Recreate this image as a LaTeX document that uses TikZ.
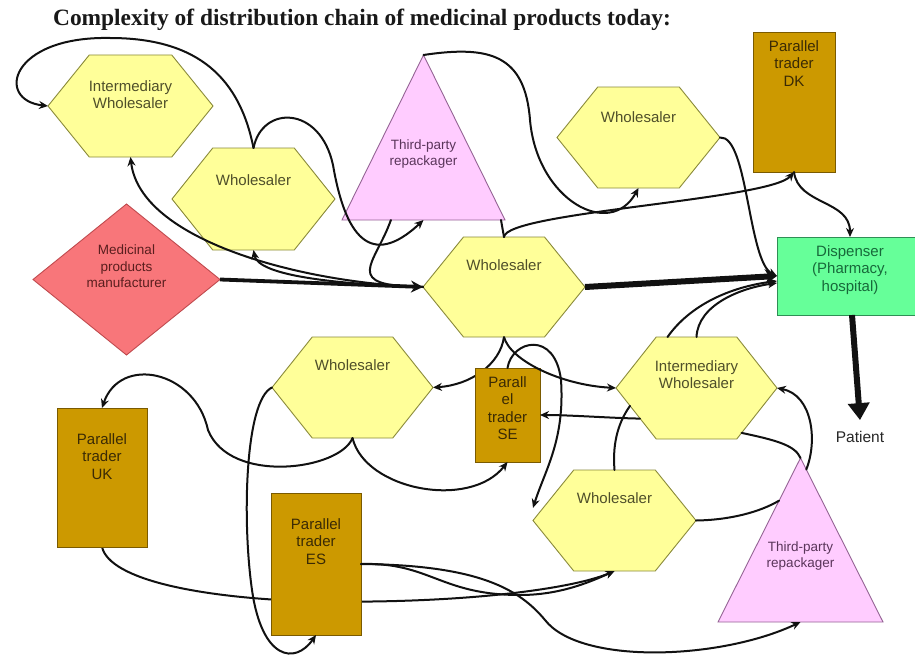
\documentclass[tikz,border=0pt]{standalone}
\usepackage{fontspec}
\setmainfont{Liberation Sans}
\newfontfamily\titlefont{Liberation Serif}
\usetikzlibrary{arrows.meta,calc}

\pgfdeclarelayer{canvas}
\pgfdeclarelayer{behind}
\pgfdeclarelayer{shapes}
\pgfsetlayers{canvas,behind,shapes,main}

\definecolor{hexfill}{HTML}{FFFF99}
\definecolor{hexline}{HTML}{8A8A3A}
\definecolor{hextext}{HTML}{4F4F2A}
\definecolor{trifill}{HTML}{FFCCFF}
\definecolor{triline}{HTML}{946494}
\definecolor{tritext}{HTML}{5A355A}
\definecolor{ptfill}{HTML}{CC9900}
\definecolor{ptline}{HTML}{7A5A00}
\definecolor{pttext}{HTML}{3A2A05}
\definecolor{dispfill}{HTML}{66FF99}
\definecolor{displine}{HTML}{2F8F55}
\definecolor{disptext}{HTML}{17693A}
\definecolor{mffill}{HTML}{F8767A}
\definecolor{mfline}{HTML}{C04A4E}
\definecolor{mftext}{HTML}{5A1E1E}
\definecolor{inkline}{HTML}{111111}

% box of given width/height, text set from the top with a given padding
\newcommand\shtxt[4]{\parbox[c][#2][t]{#1}{\centering\vspace*{#3}\strut#4\par}}

\tikzset{
  hexnode/.style={inner sep=0pt, outer sep=0pt, font=\fontsize{15}{17.5}\selectfont, text=hextext},
  hexshape/.style={fill=hexfill, draw=hexline, line width=0.9pt},
  trinode/.style={inner sep=0pt, outer sep=0pt, font=\fontsize{13.5}{15.5}\selectfont, text=tritext},
  trishape/.style={fill=trifill, draw=triline, line width=0.9pt},
  ptbox/.style={inner sep=0pt, outer sep=0pt, fill=ptfill, draw=ptline, line width=0.9pt,
    font=\fontsize{15}{17.5}\selectfont, text=pttext},
  dispbox/.style={inner sep=0pt, outer sep=0pt, fill=dispfill, draw=displine, line width=0.9pt,
    font=\fontsize{15}{17.5}\selectfont, text=disptext},
  mfnode/.style={inner sep=0pt, outer sep=0pt, font=\fontsize{13.5}{16.5}\selectfont, text=mftext},
  mfshape/.style={fill=mffill, draw=mfline, line width=0.9pt},
  pattext/.style={inner xsep=2pt, inner ysep=11pt, font=\fontsize{15.5}{18}\selectfont, text=black!85},
  conn/.style={draw=inkline, line width=2pt, line cap=round, -{Stealth[length=9pt,width=8pt]}},
  link/.style={draw=inkline, line width=2pt, line cap=round},
  mainflow/.style={draw=inkline, line width=3.8pt, -{Stealth[length=12pt,width=12pt]}},
  heavyflow/.style={draw=inkline, line width=6pt, -{Stealth[length=12pt,width=15pt]}},
  patientflow/.style={draw=inkline, line width=6pt, -{Triangle[length=17pt,width=21pt]}},
}

\newcommand\hexa[7]{%
  \node[hexnode] (#1) at (#2,#3) {\shtxt{#4pt}{#5pt}{#6pt}{#7}};
  \begin{pgfonlayer}{shapes}
    \path[hexshape] (#1.west) -- ($(#1.north west)!.25!(#1.north east)$)
      -- ($(#1.north west)!.75!(#1.north east)$) -- (#1.east)
      -- ($(#1.south west)!.75!(#1.south east)$)
      -- ($(#1.south west)!.25!(#1.south east)$) -- cycle;
  \end{pgfonlayer}}

\newcommand\tri[7]{%
  \node[trinode] (#1) at (#2,#3) {\shtxt{#4pt}{#5pt}{#6pt}{#7}};
  \begin{pgfonlayer}{shapes}
    \path[trishape] (#1.south west) -- (#1.north) -- (#1.south east) -- cycle;
  \end{pgfonlayer}}

\begin{document}
\begin{tikzpicture}[x=1pt,y=-1pt]
\useasboundingbox (0,0) rectangle (915,661);
\begin{pgfonlayer}{canvas}
  \fill[white] (0,0) rectangle (915,661);
\end{pgfonlayer}

% title
\node[font=\titlefont\bfseries\fontsize{23.4}{26}\selectfont, text=black!90] (title) at (362,20)
  {Complexity of distribution chain of medicinal products today:};

% actors
\hexa{iw1}{130.5}{106}{165}{102}{24}{Intermediary\\Wholesaler}
\hexa{w1}{253.5}{199}{163}{102}{25}{Wholesaler}
\tri{tp1}{423.5}{137.5}{163}{165}{84}{Third-party\\repackager}
\hexa{w2}{638.5}{137.5}{163}{101}{23}{Wholesaler}
\node[ptbox] (dk) at (794,102) {\shtxt{82pt}{140pt}{7pt}{Parallel\\trader\\DK}};
\node[dispbox] (disp) at (850,276) {\shtxt{146pt}{78pt}{7pt}{Dispenser\\(Pharmacy,\\hospital)}};

\node[mfnode] (mf) at (126.5,279.5) {\shtxt{187pt}{151pt}{39pt}{Medicinal\\products\\manufacturer}};
\begin{pgfonlayer}{shapes}
  \path[mfshape] (mf.west) -- (mf.north) -- (mf.east) -- (mf.south) -- cycle;
\end{pgfonlayer}

\hexa{cw}{504}{287}{162}{100}{21}{Wholesaler}
\hexa{w3}{352.5}{387.5}{161}{101}{21}{Wholesaler}
\node[ptbox] (se) at (507.5,415) {\shtxt{65pt}{94pt}{7pt}{Parall\\el\\trader\\SE}};
\hexa{iw2}{696.5}{388}{161}{102}{22}{Intermediary\\Wholesaler}
\hexa{w4}{614.5}{520.5}{163}{101}{21}{Wholesaler}
\tri{tp2}{800.5}{540}{165}{164}{83}{Third-party\\repackager}
\node[ptbox] (uk) at (102,477.5) {\shtxt{90pt}{139pt}{24pt}{Parallel\\trader\\UK}};
\node[ptbox] (es) at (316,564) {\shtxt{90pt}{142pt}{24pt}{Parallel\\trader\\ES}};
\node[pattext] (pat) at (860,437) {Patient};

% main chain
\draw[mainflow] (mf.east) -- (cw.west);
\draw[heavyflow] (cw.east) -- (disp.west);
\draw[patientflow] ($(disp.south)+(2,0)$) -- (pat.north);

% upper part
\draw[conn] (w1.north) .. controls (240,80) and (200,38) .. (110,38)
  .. controls (10,36) and (-5,100) .. (iw1.west);
\draw[conn] (w1.north) .. controls (262,105) and (320,105) .. (333,165)
  .. controls (345,235) and (370,270) .. (tp1.south);
\draw[link] ($(tp1.south west)!.3!(tp1.south east)$) .. controls (375,265) and (340,286) .. (cw.west);
\draw[conn] (cw.west) .. controls (330,284) and (258,275) .. (w1.south);
\draw[conn] (cw.west) .. controls (300,283) and (140,240) .. (iw1.south);
\draw[conn] (tp1.north) .. controls (490,45) and (525,55) .. (530,120)
  .. controls (537,200) and (610,240) .. (w2.south);
\draw[link] ($(tp1.south east)+(-4,0)$) -- (cw.north);
\draw[conn] (cw.north) .. controls (506,212) and (770,200) .. (dk.south);
\draw[conn] (w2.east) .. controls (748,135) and (748,262) .. (disp.west);
\draw[conn] (dk.south) .. controls (798,205) and (850,200) .. (disp.north);
\draw[conn] ($(iw2.north west)!.32!(iw2.north east)$) .. controls (690,305) and (730,287) .. ($(disp.west)+(0,5)$);
\draw[conn] (iw2.north) .. controls (698,305) and (740,288) .. ($(disp.west)+(0,7)$);

% lower part
\begin{pgfonlayer}{behind}
  \draw[conn] (cw.south) .. controls (500,365) and (470,385) .. (w3.east);
  \draw[conn] (uk.south) .. controls (110,580) and (200,597) .. (300,601)
    .. controls (450,605) and (570,590) .. (w4.south);
\end{pgfonlayer}
\draw[conn] (cw.south) .. controls (510,360) and (560,385) .. (iw2.west);
\draw[conn] (se.north) .. controls (512,340) and (555,330) .. (561,380)
  .. controls (565,440) and (545,470) .. ($(w4.west)!.25!(w4.north west)$);
\draw[conn] (w3.south) .. controls (365,490) and (470,510) .. (se.south);
\draw[conn] (w3.south) .. controls (340,470) and (230,485) .. (208,430)
  .. controls (195,370) and (120,355) .. (uk.north);
\draw[conn] (w3.west) .. controls (245,400) and (242,520) .. (252,590)
  .. controls (262,660) and (295,665) .. (es.south);
\draw[conn] (es.east) .. controls (430,562) and (440,595) .. (520,595)
  .. controls (560,595) and (590,582) .. (w4.south);
\draw[conn] (es.east) .. controls (480,565) and (520,590) .. (545,620)
  .. controls (580,665) and (720,660) .. (tp2.south);
\draw[conn] ($(iw2.west)!.6!(iw2.south west)+(24,0)$) .. controls (610,418) and (570,415) .. (se.east);
\draw[link] (w4.north) .. controls (612,440) and (620,420) .. ($(iw2.west)!.35!(iw2.south west)+(14,0)$);
\draw[link] (w4.east) .. controls (730,520) and (760,512) .. ($(tp2.north)!.26!(tp2.south west)$);
\draw[link] ($(iw2.east)!.88!(iw2.south east)+(-35.4,0)$) .. controls (775,440) and (795,445) .. (tp2.north);
\draw[conn] ($(tp2.north)!.07!(tp2.south east)$) .. controls (818,440) and (812,395) .. (iw2.east);
\end{tikzpicture}
\end{document}
